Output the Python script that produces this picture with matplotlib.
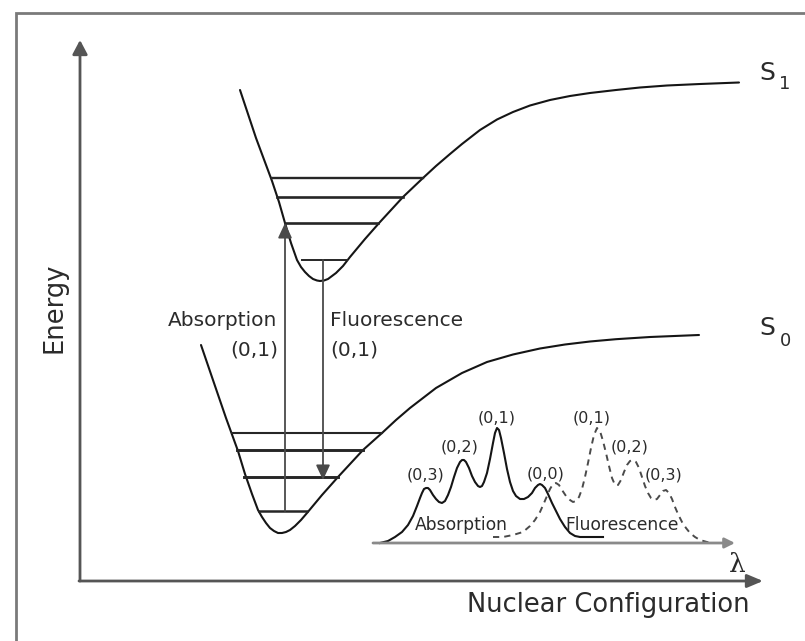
import matplotlib
matplotlib.use("Agg")
import matplotlib.pyplot as plt

# ---- Data (diagram coordinates: configuration, energy) ----
s1_config = [160, 176, 192, 199, 205, 211, 217, 221, 225, 229, 233, 237, 240, 244, 248, 252,
             256, 263, 270, 285, 300, 323, 343, 356, 370, 382, 400, 417, 433, 450, 470, 490,
             510, 536, 560, 587, 620, 659]
s1_energy = [491, 443, 400, 379, 358, 338, 321, 314, 309, 305, 302, 300.5, 300, 300.5, 302, 305,
             308, 315, 324, 342, 359, 384, 403, 415, 427, 437, 451, 461.5, 469, 475.5, 481, 485,
             488, 491, 493.5, 495.5, 497, 498.5]

s0_config = [121, 134, 146, 158, 165, 172, 175, 178, 182, 186, 190, 194, 198, 202, 206, 210,
             215, 221, 227, 242, 258, 283, 302, 316, 330, 356, 382, 407, 433, 460, 485, 510,
             536, 570, 619]
s0_energy = [236, 198, 163, 130, 107, 87, 79, 71, 64, 58, 53, 50, 48, 48, 49, 51,
             55, 61, 68, 86, 104, 131, 148, 161, 173, 193, 208, 219, 226.5, 232.5, 236.5, 239.5,
             241.8, 244, 246]

s1_level_energy = [403, 384, 358, 321]
s1_level_left = [192, 197, 205, 222]
s1_level_right = [343, 323, 298, 267]

s0_level_energy = [148, 131, 104, 70]
s0_level_left = [152, 157, 164, 179]
s0_level_right = [302, 283, 258, 227]

absorption_x = 205
absorption_from, absorption_to = 70, 358
fluorescence_x = 243
fluorescence_from, fluorescence_to = 321, 101

spec_base_energy = 38
spec_base_start, spec_base_end = 293, 655

abs_x = [300, 308, 315, 322, 328, 333, 337, 340, 342, 344, 346, 348, 350, 353, 356, 359,
         362, 365, 368, 371, 374, 377, 380, 382, 384, 386, 389, 392, 395, 398, 400, 402,
         404, 407, 410, 413, 415, 417, 419, 421, 424, 427, 430, 433, 436, 440, 444, 448,
         452, 455, 458, 460, 462, 465, 468, 472, 476, 480, 485, 490, 495, 500, 523]
abs_y = [38, 40, 44, 49, 56, 65, 75, 83, 88, 92, 93, 93, 91, 86, 82, 79,
         78, 80, 86, 94, 104, 113, 119, 121, 121, 119, 113, 105, 99, 95, 94, 95,
         99, 108, 122, 138, 148, 153, 151, 143, 128, 112, 99, 90, 85, 82, 82, 84,
         88, 93, 96, 97, 96, 93, 87, 78, 70, 62, 54, 48, 45, 44, 44]

fl_x = [413, 423, 433, 443, 450, 455, 460, 464, 467, 470, 473, 476, 479, 482, 486, 490,
        493, 496, 499, 502, 505, 508, 511, 514, 517, 520, 523, 526, 529, 532, 535, 538,
        541, 544, 547, 550, 553, 556, 559, 562, 565, 568, 571, 574, 577, 580, 583, 586,
        589, 592, 595, 598, 602, 606, 610, 615, 620, 627, 633]
fl_y = [44, 44, 46, 49, 55, 61, 69, 78, 85, 92, 97, 98, 96, 91, 85, 81,
        79, 80, 84, 92, 104, 118, 133, 146, 153, 150, 140, 128, 115, 103, 96, 96,
        101, 109, 116, 120, 121, 119, 113, 104, 95, 88, 83, 81, 82, 86, 90, 91,
        88, 82, 74, 67, 59, 53, 48, 44, 41, 39, 38]

abs_peak_labels = ["(0,3)", "(0,2)", "(0,1)", "(0,0)"]
abs_peak_x = [345, 380, 417, 466]
abs_peak_y = [106, 134, 163, 107]
fl_peak_labels = ["(0,1)", "(0,2)", "(0,3)"]
fl_peak_x = [512, 550, 583]
fl_peak_y = [163, 134, 106]

# ---- Figure ----
fig = plt.figure(figsize=(8.05, 6.41), dpi=100)
ax = fig.add_axes([0, 0, 1, 1])
ax.set_xlim(-80, 725)
ax.set_ylim(-60, 581)
ax.axis("off")

# frame (left and top)
ax.plot([-64, -64, 725], [-60, 568, 568], color="#7a7a7a", lw=2.0, solid_joinstyle="miter")

# main axes with arrows
axis_col = "#555555"
ax.annotate("", xy=(0, 541), xytext=(0, 0),
            arrowprops=dict(arrowstyle="-|>,head_length=0.85,head_width=0.45", mutation_scale=10,
                            lw=2.0, color=axis_col, shrinkA=0, shrinkB=0))
ax.annotate("", xy=(683, 0), xytext=(-1, 0),
            arrowprops=dict(arrowstyle="-|>,head_length=0.95,head_width=0.4", mutation_scale=10,
                            lw=2.0, color=axis_col, shrinkA=0, shrinkB=0))

# potential curves
curve_col = "#151515"
ax.plot(s1_config, s1_energy, color=curve_col, lw=1.5, solid_capstyle="round", solid_joinstyle="round")
ax.plot(s0_config, s0_energy, color=curve_col, lw=1.5, solid_capstyle="round", solid_joinstyle="round")

# vibrational levels
level_lw = [1.7, 1.9, 1.9, 1.4]
for e, l, r, w in zip(s1_level_energy, s1_level_left, s1_level_right, level_lw):
    ax.plot([l, r], [e, e], color="#262626", lw=w)
level_lw0 = [1.5, 2.1, 2.1, 1.8]
for e, l, r, w in zip(s0_level_energy, s0_level_left, s0_level_right, level_lw0):
    ax.plot([l, r], [e, e], color="#262626", lw=w)

# transitions
trans_col = "#4a4a4a"
ax.annotate("", xy=(absorption_x, absorption_to), xytext=(absorption_x, absorption_from),
            arrowprops=dict(arrowstyle="-|>,head_length=0.9,head_width=0.42", mutation_scale=10,
                            lw=1.3, color=trans_col, shrinkA=0, shrinkB=0))
ax.annotate("", xy=(fluorescence_x, fluorescence_to), xytext=(fluorescence_x, fluorescence_from),
            arrowprops=dict(arrowstyle="-|>,head_length=0.9,head_width=0.42", mutation_scale=10,
                            lw=1.3, color=trans_col, shrinkA=0, shrinkB=0))

txt_col = "#2b2b2b"
ax.text(197, 260, "Absorption", ha="right", va="center", fontsize=14.5, color=txt_col)
ax.text(198, 231, "(0,1)", ha="right", va="center", fontsize=14.5, color=txt_col)
ax.text(250, 260, "Fluorescence", ha="left", va="center", fontsize=14.5, color=txt_col)
ax.text(250, 231, "(0,1)", ha="left", va="center", fontsize=14.5, color=txt_col)

# state labels
ax.text(687, 508, "S", ha="center", va="center", fontsize=18, color=txt_col)
ax.text(705, 497, "1", ha="center", va="center", fontsize=13, color=txt_col)
ax.text(687, 253, "S", ha="center", va="center", fontsize=18, color=txt_col)
ax.text(705, 240, "0", ha="center", va="center", fontsize=13, color=txt_col)

# spectrum inset
ax.annotate("", xy=(spec_base_end, spec_base_energy), xytext=(spec_base_start, spec_base_energy),
            arrowprops=dict(arrowstyle="-|>,head_length=0.6,head_width=0.3", mutation_scale=10,
                            lw=2.0, color="#8a8a8a", shrinkA=0, shrinkB=0))
ax.plot(abs_x, abs_y, color="#151515", lw=1.5, solid_joinstyle="round")
ax.plot(fl_x, fl_y, color="#4a4a4a", lw=1.4, linestyle=(0, (3.2, 2.6)))

for lab, x, y in zip(abs_peak_labels, abs_peak_x, abs_peak_y):
    ax.text(x, y, lab, ha="center", va="center", fontsize=11.5, color=txt_col)
for lab, x, y in zip(fl_peak_labels, fl_peak_x, fl_peak_y):
    ax.text(x, y, lab, ha="center", va="center", fontsize=11.5, color=txt_col)
ax.text(381, 56, "Absorption", ha="center", va="center", fontsize=12.3, color=txt_col)
ax.text(542, 56, "Fluorescence", ha="center", va="center", fontsize=12.3, color=txt_col)

# axis labels
ax.text(657, 16, "λ", ha="center", va="center", fontsize=19, family="DejaVu Serif", color=txt_col)
ax.text(-26, 273, "Energy", ha="center", va="center", rotation=90, fontsize=18.5, color=txt_col)
ax.text(528, -24, "Nuclear Configuration", ha="center", va="center", fontsize=18.5, color=txt_col)

fig.savefig("out.png", dpi=100)
